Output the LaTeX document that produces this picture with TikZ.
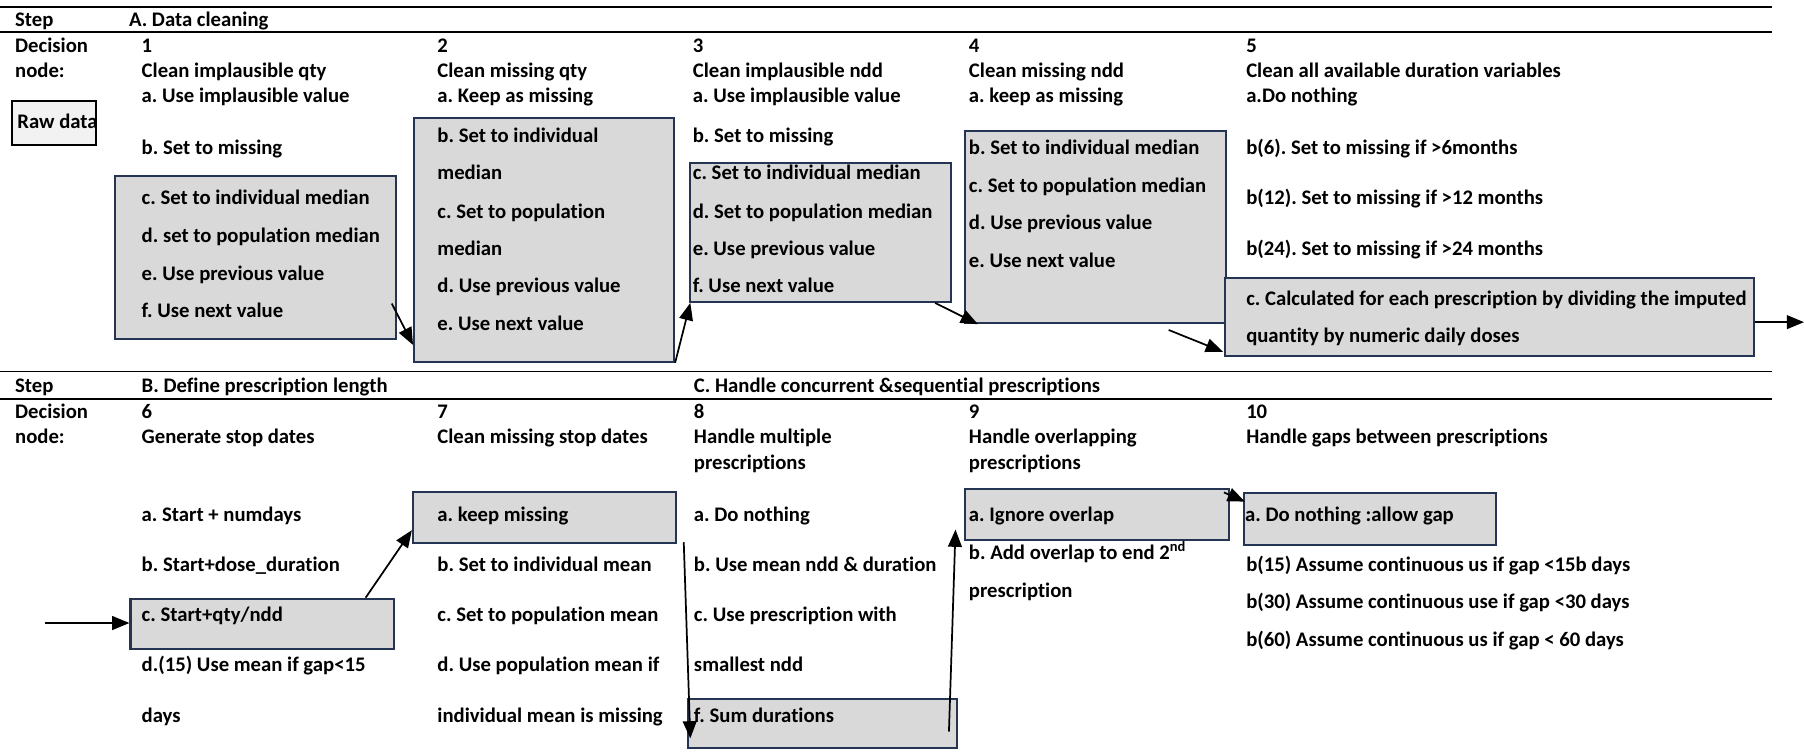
\documentclass[tikz,border=0pt]{standalone}
\usepackage{fontspec}
\setmainfont{Carlito}[Ligatures=NoCommon]
\usetikzlibrary{arrows.meta}
\frenchspacing

\definecolor{boxfill}{RGB}{217,217,217}
\definecolor{boxline}{RGB}{38,52,84}
\definecolor{rawfill}{RGB}{242,242,242}

\tikzset{
  lbl/.style={anchor=base west, inner sep=0pt, font=\fontsize{18}{22}\selectfont\bfseries},
  gbox/.style={draw=boxline, fill=boxfill, line width=1.8pt, anchor=north west, inner sep=0pt},
  rawbox/.style={draw=black, fill=rawfill, line width=2pt, anchor=north west, inner sep=0pt},
  rule/.style={line width=1.5pt},
  arr/.style={line width=1.5pt, -{Triangle[length=15pt,width=12pt]}},
}

\begin{document}
\begin{tikzpicture}[x=1pt,y=-1pt]
\useasboundingbox (0,0) rectangle (1568,654);

% horizontal rules of the two tables
\draw[rule] (0,6) -- (1540,6);
\draw[rule] (0,28) -- (1540,28);
\draw[rule] (0,323) -- (1540,323);
\draw[rule] (0,347) -- (1540,347);

% shaded option boxes
\node[rawbox, minimum width=73pt,  minimum height=38pt]   (raw) at (9.5,87) {};
\node[gbox,   minimum width=244pt, minimum height=141.5pt] (b1) at (99,152) {};
\node[gbox,   minimum width=226pt, minimum height=211.5pt] (b2) at (359,102) {};
\node[gbox,   minimum width=227pt, minimum height=120.5pt] (b3) at (599,141) {};
\node[gbox,   minimum width=227pt, minimum height=167pt]   (b4) at (838,113) {};
\node[gbox,   minimum width=460pt, minimum height=67.5pt]  (b5) at (1064,241) {};
\node[gbox,   minimum width=229pt, minimum height=44pt]    (b6) at (112.5,519.5) {};
\node[gbox,   minimum width=228.5pt, minimum height=44.5pt] (b7) at (358,426.5) {};
\node[gbox,   minimum width=234pt, minimum height=42.5pt]  (b8) at (597,606.5) {};
\node[gbox,   minimum width=229pt, minimum height=44.5pt]  (b9) at (838,424) {};
\node[gbox,   minimum width=219pt, minimum height=45pt]    (b10) at (1080,427.6) {};

% ---- upper table: A. Data cleaning ----
\node[lbl] (s1) at (13,23) {Step};
\node[lbl] (sA) at (112,23) {A. Data cleaning};
\node[lbl] (d1) at (13,46) {Decision};
\node[lbl] (d2) at (13,67.5) {node:};
\node[lbl] (rawt) at (15,111.5) {Raw data};

% node 1
\node[lbl] (n1) at (123,46) {1};
\node[lbl] (n1t) at (123,67.5) {Clean implausible qty};
\node[lbl] (n1a) at (123,89) {a. Use implausible value};
\node[lbl] (n1b) at (123,134) {b. Set to missing};
\node[lbl] (n1c) at (123,178) {c. Set to individual median};
\node[lbl] (n1d) at (123,211) {d. set to population median};
\node[lbl] (n1e) at (123,243.5) {e. Use previous value};
\node[lbl] (n1f) at (123,276) {f. Use next value};

% node 2
\node[lbl] (n2) at (380,46) {2};
\node[lbl] (n2t) at (380,67.5) {Clean missing qty};
\node[lbl] (n2a) at (380,89) {a. Keep as missing};
\node[lbl] (n2b) at (380,123.5) {b. Set to individual};
\node[lbl] (n2b2) at (380,156) {median};
\node[lbl] (n2c) at (380,189.5) {c. Set to population};
\node[lbl] (n2c2) at (380,222) {median};
\node[lbl] (n2d) at (380,254.5) {d. Use previous value};
\node[lbl] (n2e) at (380,287.5) {e. Use next value};

% node 3
\node[lbl] (n3) at (602,46) {3};
\node[lbl] (n3t) at (602,67.5) {Clean implausible ndd};
\node[lbl] (n3a) at (602,89) {a. Use implausible value};
\node[lbl] (n3b) at (602,123.5) {b. Set to missing};
\node[lbl] (n3c) at (602,156) {c. Set to individual median};
\node[lbl] (n3d) at (602,189.5) {d. Set to population median};
\node[lbl] (n3e) at (602,222) {e. Use previous value};
\node[lbl] (n3f) at (602,254.5) {f. Use next value};

% node 4
\node[lbl] (n4) at (842,46) {4};
\node[lbl] (n4t) at (842,67.5) {Clean missing ndd};
\node[lbl] (n4a) at (842,89) {a. keep as missing};
\node[lbl] (n4b) at (842,134.5) {b. Set to individual median};
\node[lbl] (n4c) at (842,167) {c. Set to population median};
\node[lbl] (n4d) at (842,199.5) {d. Use previous value};
\node[lbl] (n4e) at (842,232.5) {e. Use next value};

% node 5
\node[lbl] (n5) at (1083,46) {5};
\node[lbl] (n5t) at (1083,67.5) {Clean all available duration variables};
\node[lbl] (n5a) at (1083,89) {a.Do nothing};
\node[lbl] (n5b1) at (1083,134.5) {b(6). Set to missing if >6months};
\node[lbl] (n5b2) at (1083,178) {b(12). Set to missing if >12 months};
\node[lbl] (n5b3) at (1083,222) {b(24). Set to missing if >24 months};
\node[lbl] (n5c) at (1083,265.5) {c. Calculated for each prescription by dividing the imputed};
\node[lbl] (n5c2) at (1083,298) {quantity by numeric daily doses};

% ---- lower table: B. and C. ----
\node[lbl] (s2) at (13,341) {Step};
\node[lbl] (sB) at (123,341) {B. Define prescription length};
\node[lbl] (sC) at (603,341) {C. Handle concurrent \&sequential prescriptions};
\node[lbl] (d3) at (13,364) {Decision};
\node[lbl] (d4) at (13,385.5) {node:};

% node 6
\node[lbl] (n6) at (123,364) {6};
\node[lbl] (n6t) at (123,385.5) {Generate stop dates};
\node[lbl] (n6a) at (123,453.5) {a. Start + numdays};
\node[lbl] (n6b) at (123,497) {b. Start+dose\_duration};
\node[lbl] (n6c) at (123,540.5) {c. Start+qty/ndd};
\node[lbl] (n6d) at (123,584) {d.(15) Use mean if gap<15};
\node[lbl] (n6d2) at (123,628) {days};

% node 7
\node[lbl] (n7) at (380,364) {7};
\node[lbl] (n7t) at (380,385.5) {Clean missing stop dates};
\node[lbl] (n7a) at (380,453.5) {a. keep missing};
\node[lbl] (n7b) at (380,497) {b. Set to individual mean};
\node[lbl] (n7c) at (380,540.5) {c. Set to population mean};
\node[lbl] (n7d) at (380,584) {d. Use population mean if};
\node[lbl] (n7d2) at (380,628) {individual mean is missing};

% node 8
\node[lbl] (n8) at (603,364) {8};
\node[lbl] (n8t) at (603,385.5) {Handle multiple};
\node[lbl] (n8t2) at (603,408) {prescriptions};
\node[lbl] (n8a) at (603,453.5) {a. Do nothing};
\node[lbl] (n8b) at (603,497) {b. Use mean ndd \& duration};
\node[lbl] (n8c) at (603,540.5) {c. Use prescription with};
\node[lbl] (n8c2) at (603,584) {smallest ndd};
\node[lbl] (n8f) at (603,628) {f. Sum durations};

% node 9
\node[lbl] (n9) at (842,364) {9};
\node[lbl] (n9t) at (842,385.5) {Handle overlapping};
\node[lbl] (n9t2) at (842,408) {prescriptions};
\node[lbl] (n9a) at (842,453.5) {a. Ignore overlap};
\node[lbl] (n9b) at (842,486) {b. Add overlap to end 2\textsuperscript{nd}};
\node[lbl] (n9b2) at (842,519) {prescription};

% node 10
\node[lbl] (n10) at (1083,364) {10};
\node[lbl] (n10t) at (1083,385.5) {Handle gaps between prescriptions};
\node[lbl] (n10a) at (1082,453.5) {a. Do nothing :allow gap};
\node[lbl] (n10b1) at (1083,497) {b(15) Assume continuous us if gap <15b days};
\node[lbl] (n10b2) at (1083,528.5) {b(30) Assume continuous use if gap <30 days};
\node[lbl] (n10b3) at (1083,561.5) {b(60) Assume continuous us if gap < 60 days};

% free ends of the entry and exit arrows
\coordinate (out) at (1568,280);
\coordinate (in6) at (38.8,541.5);

% path through the chosen options
\draw[arr] ([shift={(-4.3,-31.5)}]b1.south east) -- ([shift={(0,-15.5)}]b2.south west);
\draw[arr] (b2.south east) -- ([shift={(1,0)}]b3.south west);
\draw[arr] ([shift={(-15,0)}]b3.south east) -- ([shift={(12,0)}]b4.south west);
\draw[arr] ([shift={(-51,5)}]b4.south east) -- ([shift={(-1,-4.5)}]b5.south west);
\draw[arr] (b5.east |- out) -- (out);
\draw[arr] (in6) -- (in6 -| b6.west);
\draw[arr] ([shift={(-25.5,0)}]b6.north east) -- ([shift={(0,-12)}]b7.south west);
\draw[arr] ([shift={(6,-1.5)}]b7.south east) -- ([shift={(3,-9)}]b8.south west);
\draw[arr] ([shift={(-8,-15)}]b8.south east) -- ([shift={(-7.5,-10)}]b9.south west);
\draw[arr] ([shift={(-5,4)}]b9.north east) -- ([shift={(2,8.4)}]b10.north west);
\end{tikzpicture}
\end{document}
